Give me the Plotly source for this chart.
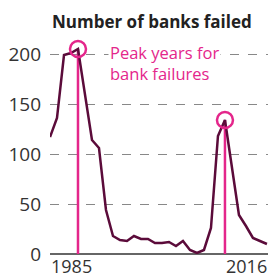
import plotly.graph_objects as go

years = list(range(1985, 2017))
failed = [117, 136, 199, 201, 205, 160, 114, 106, 44, 18, 14, 13, 18, 15, 15, 11,
          11, 12, 8, 13, 4, 1, 4, 26, 118, 134, 87, 39, 28, 16, 13, 10]
peak_years = [1989, 2010]
peak_vals = [failed[years.index(y)] for y in peak_years]
yticks = [0, 50, 100, 150, 200]
xlabels = [1985, 2016]

PINK = "#E4268B"
LINE = "#5B0B3A"
FONT = "Open Sans"

fig = go.Figure()

# pink vertical lines from peaks to axis
for yr, v in zip(peak_years, peak_vals):
    fig.add_trace(go.Scatter(x=[yr, yr], y=[0, v], mode="lines",
                             line=dict(color=PINK, width=2.5),
                             hoverinfo="skip", showlegend=False, cliponaxis=False))

fig.add_trace(go.Scatter(x=years, y=failed, mode="lines",
                         line=dict(color=LINE, width=2.5),
                         showlegend=False))

fig.add_trace(go.Scatter(x=peak_years, y=peak_vals, mode="markers",
                         marker=dict(symbol="circle-open", size=16, color=PINK,
                                     line=dict(color=PINK, width=2.5)),
                         showlegend=False, cliponaxis=False))

fig.add_annotation(text="Number of banks failed", xref="paper", yref="paper",
                   x=0, y=(254 - 22) / 215, xanchor="left", yanchor="middle",
                   showarrow=False, font=dict(family=FONT, size=17, color="#222222", weight="bold"))

fig.add_annotation(text="Peak years for<br>bank failures", xref="paper", yref="paper",
                   x=58 / 218, y=(254 - 63) / 215, xanchor="left", yanchor="middle",
                   align="left", showarrow=False, bgcolor="white", borderpad=1,
                   font=dict(family=FONT, size=16.5, color=PINK))

# x-axis end labels: first left-aligned, last right-aligned
fig.add_annotation(text=str(xlabels[0]), x=xlabels[0], xref="x", yref="paper",
                   y=(254 - 266) / 215, xanchor="left", yanchor="middle", showarrow=False,
                   borderpad=0, font=dict(family=FONT, size=18, color="#333333"))
fig.add_annotation(text=str(xlabels[1]), x=1, xref="paper", yref="paper",
                   y=(254 - 266) / 215, xanchor="right", yanchor="middle", showarrow=False,
                   borderpad=0, font=dict(family=FONT, size=18, color="#333333"))

fig.update_layout(
    width=268, height=278,
    margin=dict(l=50, r=0, t=39, b=24),
    plot_bgcolor="white", paper_bgcolor="white",
    font=dict(family=FONT, color="#333333"),
    xaxis=dict(range=[1985, 2016.15], showticklabels=False,
               showgrid=False, zeroline=False, showline=False, ticks="",
               automargin=False, fixedrange=True),
    yaxis=dict(range=[0, 215], tickvals=yticks, showgrid=True, gridcolor="#888888",
               griddash="dash", gridwidth=1.3, zeroline=True, zerolinecolor="#666666",
               zerolinewidth=1.5, ticks="", ticklabelstandoff=8, automargin=False,
               tickfont=dict(size=19, color="#333333"), fixedrange=True),
)

fig.write_html("out.html", config={"displayModeBar": False},
               post_script="document.body.style.margin='0';document.body.style.overflow='hidden';")
